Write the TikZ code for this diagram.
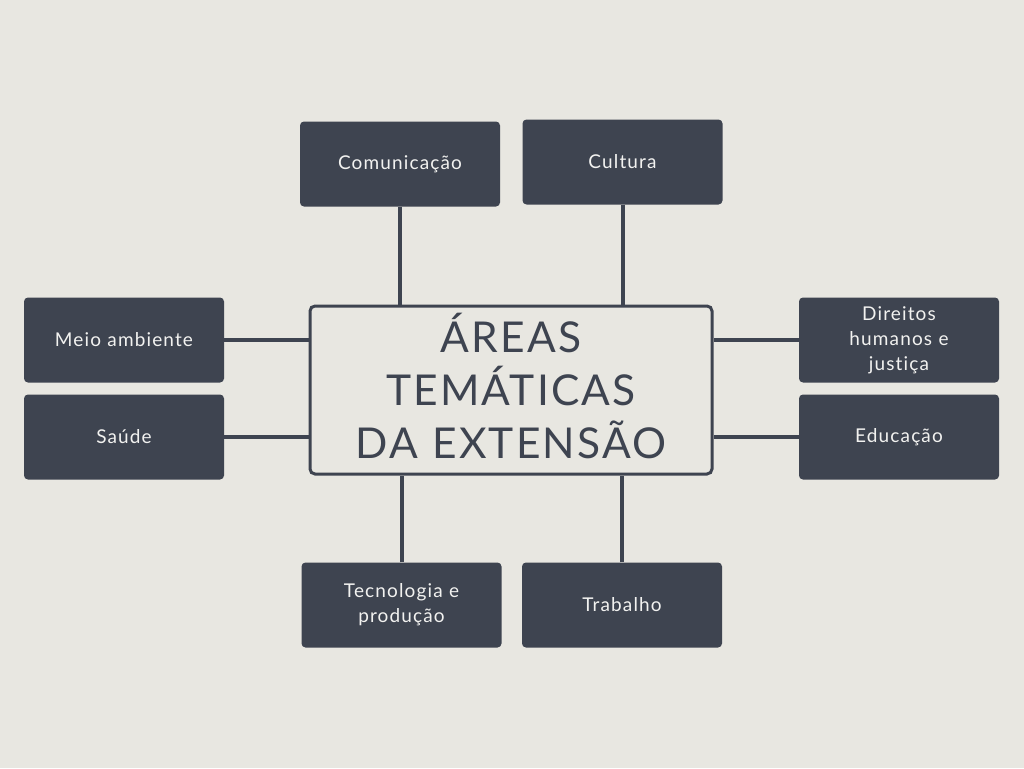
\documentclass[tikz,border=0pt]{standalone}
\usepackage{fontspec}
\setmainfont{Lato}
\newfontfamily\boxfont[LetterSpace=6,Ligatures=CommonOff]{Lato}
\newfontfamily\titlefont[LetterSpace=5,Ligatures=CommonOff]{Lato}
\definecolor{bgc}{HTML}{E8E7E1}
\definecolor{boxc}{HTML}{3E4450}
\definecolor{txtc}{HTML}{F2F2F0}
\tikzset{
  leaf/.style={fill=boxc, rounded corners=4pt, minimum width=200pt, minimum height=85pt,
    text width=170pt, align=center, text=txtc, font=\boxfont\fontsize{19pt}{25pt}\selectfont, inner sep=0pt},
  hub/.style={draw=boxc, line width=3pt, rounded corners=5pt, fill=bgc, minimum width=402pt, minimum height=168pt, inner sep=0pt},
  hubtext/.style={text width=390pt, align=center, text=boxc, font=\titlefont\fontsize{42.5pt}{53pt}\selectfont, inner sep=0pt},
  link/.style={draw=boxc, line width=4pt}
}
\begin{document}
\begin{tikzpicture}[x=1pt,y=-1pt]
\fill[bgc] (0,0) rectangle (1024,768);
\useasboundingbox (0,0) rectangle (1024,768);
\node[hub] (cen) at (511,390) {};
\node[hubtext] (centxt) at (511,386) {ÁREAS\\TEMÁTICAS\\DA EXTENSÃO};
\node[leaf] (com) at (400,164) {Comunicação};
\node[leaf] (cul) at (622.5,162) {Cultura};
\node[leaf] (mei) at (124,340) {Meio ambiente};
\node[leaf] (sau) at (124,437) {Saúde};
\node[leaf] (dir) at (899,340) {Direitos\\humanos e\\justiça};
\node[leaf] (edu) at (899,437) {Educação};
\node[leaf] (tec) at (401.5,605) {Tecnologia e\\produção};
\node[leaf] (tra) at (622,605) {Trabalho};
\draw[link] (com.south) -- (com.south |- cen.north);
\draw[link] (cul.south) -- (cul.south |- cen.north);
\draw[link] (tec.north) -- (tec.north |- cen.south);
\draw[link] (tra.north) -- (tra.north |- cen.south);
\draw[link] (mei.east) -- (mei.east -| cen.west);
\draw[link] (sau.east) -- (sau.east -| cen.west);
\draw[link] (dir.west) -- (dir.west -| cen.east);
\draw[link] (edu.west) -- (edu.west -| cen.east);
\end{tikzpicture}
\end{document}
